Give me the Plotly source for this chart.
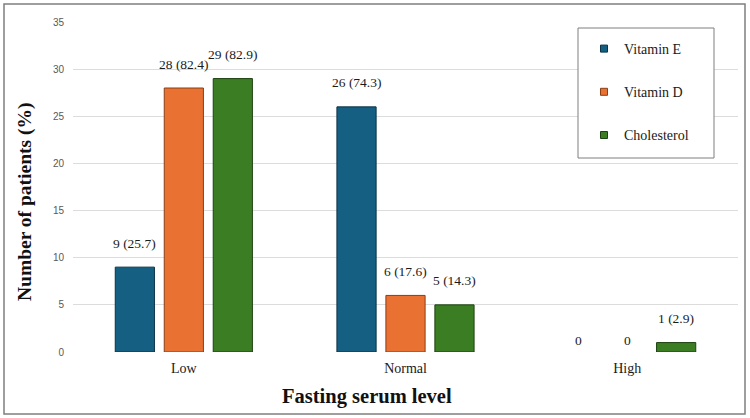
import plotly.graph_objects as go

# ---- data ----
categories = ["Low", "Normal", "High"]
series_names = ["Vitamin E", "Vitamin D", "Cholesterol"]
vitamin_e_n = [9, 26, 0]
vitamin_e_pct = [25.7, 74.3, None]
vitamin_d_n = [28, 6, 0]
vitamin_d_pct = [82.4, 17.6, None]
cholesterol_n = [29, 5, 1]
cholesterol_pct = [82.9, 14.3, 2.9]
y_ticks = [0, 5, 10, 15, 20, 25, 30, 35]

colors = ["#156082", "#E97132", "#3A7D22"]
outline = ["#0b3247", "#8a3f15", "#1d4211"]

counts = [vitamin_e_n, vitamin_d_n, cholesterol_n]
pcts = [vitamin_e_pct, vitamin_d_pct, cholesterol_pct]

# ---- layout geometry (pixels) ----
W, H = 750, 418
L, R, T, B = 73, 12, 22, 66
PW, PH = W - L - R, H - T - B
BARGAP, GROUPGAP = 0.337, 0.2
SERIF = "Liberation Serif"


def px_x(px):
    return (px - L) / PW


def px_y(py):
    return (H - B - py) / PH


fig = go.Figure()
for i, name in enumerate(series_names):
    fig.add_trace(go.Bar(
        x=categories, y=counts[i], name=name, showlegend=False,
        marker=dict(color=colors[i],
                    line=dict(color=outline[i],
                              width=[1 if v > 0 else 0 for v in counts[i]])),
        hoverinfo="x+y+name",
    ))
    # legend proxy with small square swatch
    fig.add_trace(go.Scatter(
        x=[None], y=[None], mode="markers", name=name, legendgroup=name,
        marker=dict(symbol="square", size=7, color=colors[i],
                    line=dict(color=outline[i], width=1)),
    ))

# value labels
slot_px = PW / len(categories) * (1 - BARGAP) / len(series_names)
annotations = []
for i in range(len(series_names)):
    for j, cat in enumerate(categories):
        n = counts[i][j]
        p = pcts[i][j]
        label = f"{n} ({p})" if p is not None else f"{n}"
        annotations.append(dict(
            x=cat, y=n, xref="x", yref="y", text=label, showarrow=False,
            xshift=(i - 1) * slot_px, yshift=24 if n > 0 else 12,
            font=dict(family=SERIF, size=13.5, color="#1a1a1a"),
        ))

# axis titles
annotations.append(dict(
    x=px_x(367), y=px_y(397), xref="paper", yref="paper",
    xanchor="center", yanchor="middle",
    text="<b>Fasting serum level</b>", showarrow=False,
    font=dict(family=SERIF, size=20.5, color="#111111"),
))
annotations.append(dict(
    x=px_x(25), y=px_y(202), xref="paper", yref="paper", textangle=-90,
    xanchor="center", yanchor="middle",
    text="<b>Number of patients (%)</b>", showarrow=False,
    font=dict(family=SERIF, size=19.5, color="#111111"),
))

shapes = [
    # outer frame
    dict(type="rect", xref="paper", yref="paper",
         x0=px_x(4), x1=px_x(745), y0=px_y(414), y1=px_y(4),
         line=dict(color="#7f7f7f", width=1.5), fillcolor="rgba(0,0,0,0)",
         layer="above"),
    # legend frame
    dict(type="rect", xref="paper", yref="paper",
         x0=px_x(578), x1=px_x(714), y0=px_y(158), y1=px_y(28),
         line=dict(color="#7f7f7f", width=1), fillcolor="white",
         layer="above"),
]

fig.update_layout(
    width=W, height=H,
    margin=dict(l=L, r=R, t=T, b=B),
    paper_bgcolor="white", plot_bgcolor="white",
    barmode="group", bargap=BARGAP, bargroupgap=GROUPGAP,
    showlegend=True,
    legend=dict(
        x=px_x(584), y=px_y(33), xanchor="left", yanchor="top",
        bgcolor="rgba(0,0,0,0)", borderwidth=0,
        font=dict(family=SERIF, size=14, color="#1a1a1a"),
        tracegroupgap=22,
    ),
    xaxis=dict(
        type="category", showgrid=False, zeroline=False, showline=False,
        ticks="", ticklabelstandoff=6,
        tickfont=dict(family=SERIF, size=14, color="#1a1a1a"),
    ),
    yaxis=dict(
        range=[0, 35], tickvals=y_ticks, showgrid=True, gridcolor="#dcdcdc",
        gridwidth=1, zeroline=False, showline=False, ticks="",
        ticklabelstandoff=8,
        tickfont=dict(family="Liberation Sans", size=10, color="#595959"),
    ),
    annotations=annotations,
    shapes=shapes,
)

fig.write_html(
    "out.html",
    config={"displayModeBar": False},
    post_script="document.body.style.margin='0';document.body.style.padding='0';",
)
